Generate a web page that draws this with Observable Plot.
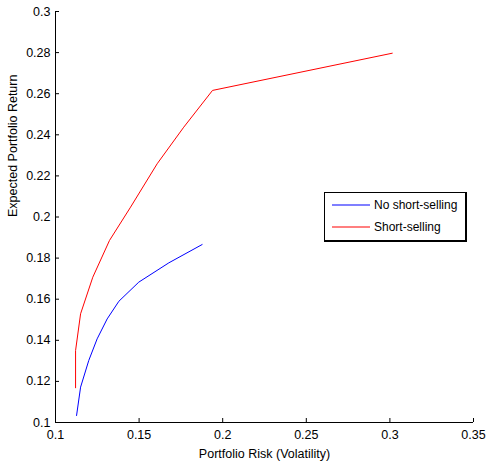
<!DOCTYPE html>
<html>
<head>
<meta charset="utf-8">
<script src="https://cdn.jsdelivr.net/npm/d3@7"></script>
<script src="https://cdn.jsdelivr.net/npm/@observablehq/plot@0.6"></script>
<style>
  html, body { margin: 0; padding: 0; background: #fff; }
  #wrap { position: relative; width: 486px; height: 469px; font-family: "Liberation Sans", Arial, Helvetica, sans-serif; }
  #legend { position: absolute; left: 324px; top: 192px; width: 143px; height: 50px; border: 1px solid #000; border-right-width: 2px; border-bottom-width: 2px; box-sizing: border-box; background: #fff; font-size: 12px; color: #000; }
  .row { position: absolute; left: 7px; height: 14px; display: flex; align-items: center; }
  .sw { display: block; margin-right: 4px; }
</style>
</head>
<body>
<div id="wrap"></div>
<script>
const seriesNames = ["No short-selling", "Short-selling"];
const seriesColors = ["#0000ff", "#ff0000"];

const noShortRisk   = [0.1126, 0.1150, 0.1199, 0.1249, 0.1309, 0.1379, 0.1498, 0.1678, 0.1877];
const noShortReturn = [0.1034, 0.1172, 0.1302, 0.1407, 0.1504, 0.1590, 0.1683, 0.1777, 0.1866];

const shortRisk   = [0.1120, 0.1120, 0.1150, 0.1223, 0.1323, 0.1449, 0.1608, 0.1767, 0.1939, 0.3014];
const shortReturn = [0.1169, 0.1350, 0.1529, 0.1707, 0.1886, 0.2048, 0.2259, 0.2437, 0.2616, 0.2797];

const xTicks = [0.1, 0.15, 0.2, 0.25, 0.3, 0.35];
const yTicks = [0.1, 0.12, 0.14, 0.16, 0.18, 0.2, 0.22, 0.24, 0.26, 0.28, 0.3];

const noShort = noShortRisk.map((x, i) => ({x, y: noShortReturn[i]}));
const short = shortRisk.map((x, i) => ({x, y: shortReturn[i]}));
const fmt = d => String(+d.toFixed(2));
const xMin = xTicks[0], yMin = yTicks[0];

const chart = Plot.plot({
  width: 486,
  height: 469,
  marginLeft: 55,
  marginRight: 13,
  marginTop: 11,
  marginBottom: 47,
  style: {fontFamily: '"Liberation Sans", Arial, Helvetica, sans-serif', fontSize: "12.5px", color: "#000", background: "#fff"},
  x: {domain: [0.1, 0.35]},
  y: {domain: [0.1, 0.3]},
  marks: [
    Plot.axisX({ticks: xTicks, tickSize: 0, tickPadding: 8, tickFormat: fmt, label: null, fill: "#000"}),
    Plot.axisY({ticks: yTicks, tickSize: 0, tickPadding: 5, tickFormat: fmt, label: null, fill: "#000"}),
    Plot.ruleX([xMin], {stroke: "#000", strokeWidth: 1}),
    Plot.ruleY([yMin], {stroke: "#000", strokeWidth: 1}),
    Plot.ruleX(xTicks, {x: d => d, y1: () => yMin, y2: () => yMin, insetTop: -4, stroke: "#000", strokeWidth: 1}),
    Plot.ruleY(yTicks, {y: d => d, x1: () => xMin, x2: () => xMin, insetRight: -4, stroke: "#000", strokeWidth: 1}),
    Plot.text(["Portfolio Risk (Volatility)"], {frameAnchor: "bottom", dy: 35, fontSize: 12.5, fill: "#000"}),
    Plot.text(["Expected Portfolio Return"], {frameAnchor: "left", dx: -43, rotate: -90, fontSize: 12.5, fill: "#000"}),
    Plot.line(noShort, {x: "x", y: "y", stroke: seriesColors[0], strokeWidth: 1}),
    Plot.line(short, {x: "x", y: "y", stroke: seriesColors[1], strokeWidth: 1})
  ]
});

const wrap = document.getElementById("wrap");
wrap.appendChild(chart);

const legend = document.createElement("div");
legend.id = "legend";
const NS = "http://www.w3.org/2000/svg";
seriesNames.forEach((name, i) => {
  const row = document.createElement("div");
  row.className = "row";
  row.style.top = (5 + i * 22) + "px";
  const sw = document.createElementNS(NS, "svg");
  sw.setAttribute("class", "sw");
  sw.setAttribute("width", "38");
  sw.setAttribute("height", "14");
  const ln = document.createElementNS(NS, "line");
  ln.setAttribute("x1", "0"); ln.setAttribute("x2", "38");
  ln.setAttribute("y1", "7"); ln.setAttribute("y2", "7");
  ln.setAttribute("stroke", seriesColors[i]);
  ln.setAttribute("stroke-width", "1.2");
  sw.appendChild(ln);
  const t = document.createElement("span");
  t.textContent = name;
  row.appendChild(sw);
  row.appendChild(t);
  legend.appendChild(row);
});
wrap.appendChild(legend);
</script>
</body>
</html>
